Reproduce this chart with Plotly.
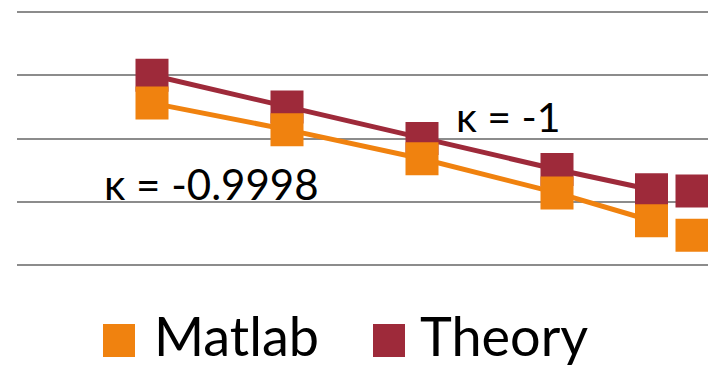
import plotly.graph_objects as go

# Sample positions along the horizontal axis (last one stands alone, unconnected)
x_pos = [1.0, 2.0, 3.0, 4.0, 4.7, 5.0]
matlab_vals = [2.56, 2.14, 1.68, 1.14, 0.70, 0.47]
theory_vals = [3.00, 2.50, 2.00, 1.51, 1.19, 1.17]

series_names = ["Matlab", "Theory"]
series_colors = ["#F0820F", "#9E2A3A"]
kappa_labels = ["κ = -0.9998", "κ = -1"]

W, H = 708, 367
L, R, T, B = 17, 0, 10, 100
PW, PH = W - L - R, H - T - B
Y_RANGE = [-2 / 63.25, 4 + 2 / 63.25]


def px(x):
    return (x - L) / PW


def py(y):
    return (H - B - y) / PH


def with_gap(xs, ys):
    # line joins the first five points; the sixth is drawn as a lone marker
    return xs[:5] + [None] + xs[5:], ys[:5] + [None] + ys[5:]


fig = go.Figure()
for name, vals, color in [("Theory", theory_vals, series_colors[1]),
                          ("Matlab", matlab_vals, series_colors[0])]:
    xs, ys = with_gap(x_pos, vals)
    fig.add_trace(go.Scatter(
        x=xs, y=ys, name=name, mode="lines+markers",
        connectgaps=False, cliponaxis=False, showlegend=False,
        line=dict(color=color, width=5),
        marker=dict(symbol="square", size=33, color=color),
    ))

font_family = "Lato, Carlito, Calibri, sans-serif"

annotations = [
    dict(text=kappa_labels[1], x=px(508), y=py(117), xref="paper", yref="paper",
         showarrow=False, font=dict(size=41, color="#000", family=font_family),
         xanchor="center", yanchor="middle"),
    dict(text=kappa_labels[0], x=px(211), y=py(184), xref="paper", yref="paper",
         showarrow=False, font=dict(size=42, color="#000", family=font_family),
         xanchor="center", yanchor="middle"),
]

shapes = []
# custom legend: big square swatches with large labels
legend_items = [(103, series_names[0], series_colors[0], 152),
                (373, series_names[1], series_colors[1], 418)]
for sx, label, color, tx in legend_items:
    shapes.append(dict(type="rect", xref="paper", yref="paper",
                       x0=px(sx), x1=px(sx + 32), y0=py(357), y1=py(324),
                       fillcolor=color, line=dict(width=0)))
    annotations.append(dict(text=label, x=px(tx), y=py(335), xref="paper", yref="paper",
                            showarrow=False, xanchor="left", yanchor="middle",
                            font=dict(size=54, color="#000", family=font_family)))

fig.update_layout(
    width=W, height=H,
    margin=dict(l=L, r=R, t=T, b=B),
    paper_bgcolor="white", plot_bgcolor="white",
    showlegend=False,
    xaxis=dict(range=[0, PW / 135.0], showgrid=False, zeroline=False,
               showticklabels=False, ticks="", showline=False),
    yaxis=dict(range=Y_RANGE, dtick=1, tick0=0, showgrid=True, gridcolor="#8C8C8C",
               gridwidth=2, zeroline=False, showticklabels=False, ticks="",
               showline=False),
    annotations=annotations,
    shapes=shapes,
)

fig.write_html("out.html")
